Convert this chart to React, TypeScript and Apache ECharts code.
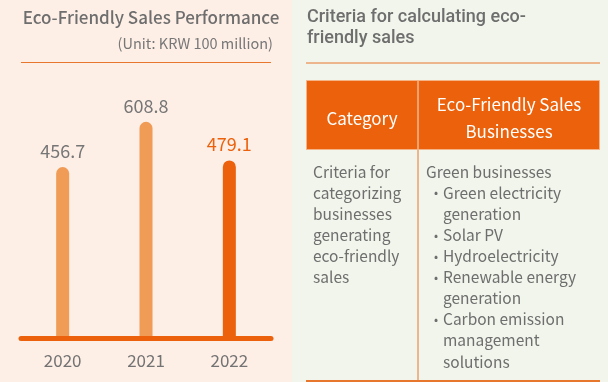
import { useEffect, useRef } from "react";
import * as echarts from "echarts";

// Eco-friendly sales by year (KRW 100 million)
const years = ["2020", "2021", "2022"];
const sales = [456.7, 608.8, 479.1];
const barColors = ["#f09c57", "#f09c57", "#ec620c"];
const labelColors = ["#767676", "#767676", "#ec620c"];
const AXIS_MIN = -110;
const AXIS_MAX = 700;

const leftTitle = "Eco-Friendly Sales Performance";
const unitText = "(Unit: KRW 100 million)";
const rightTitle = ["Criteria for calculating eco-", "friendly sales"];
const headerLeft = "Category";
const headerRight = ["Eco-Friendly Sales", "Businesses"];
const criteriaLines = ["Criteria for", "categorizing", "businesses", "generating", "eco-friendly", "sales"];
const businessHead = "Green businesses";
const businessItems = [
  ["Green electricity", "generation"],
  ["Solar PV"],
  ["Hydroelectricity"],
  ["Renewable energy", "generation"],
  ["Carbon emission", "management", "solutions"],
];

const FONT = "'Noto Sans CJK KR', 'Noto Sans', sans-serif";
const FONT_TITLE2 = "Roboto, 'Noto Sans', sans-serif";
const GRAY = "#6e6e6e";
const ORANGE = "#ec620c";

function buildGraphics() {
  const els: any[] = [
    { type: "rect", z: -10, shape: { x: 0, y: 0, width: 292, height: 382 }, style: { fill: "#fdeee6" } },
    { type: "rect", z: -10, shape: { x: 292, y: 0, width: 316, height: 382 }, style: { fill: "#f1f5eb" } },
    // left heading
    { type: "text", x: 151, y: 16, style: { text: leftTitle, font: `500 17px ${FONT}`, fill: GRAY, align: "center", verticalAlign: "middle" } },
    { type: "text", x: 273, y: 42, style: { text: unitText, font: `14.5px ${FONT}`, fill: "#777777", align: "right", verticalAlign: "middle" } },
    { type: "line", shape: { x1: 21, y1: 62.5, x2: 271, y2: 62.5 }, style: { stroke: "#e8772e", lineWidth: 1 } },
    // right heading
    {
      type: "text",
      x: 307,
      y: 4.5,
      style: { text: rightTitle.join("\n"), font: `500 18px ${FONT_TITLE2}`, lineHeight: 21.5, fill: GRAY, align: "left", verticalAlign: "top" },
    },
    { type: "line", shape: { x1: 306, y1: 63, x2: 600, y2: 63 }, style: { stroke: "#e8772e", lineWidth: 1 } },
    // table header
    { type: "rect", shape: { x: 306.5, y: 80.5, width: 293, height: 69 }, style: { fill: ORANGE, stroke: "#f4b488", lineWidth: 1 } },
    { type: "line", shape: { x1: 418, y1: 81, x2: 418, y2: 149 }, style: { stroke: "#fbe3d3", lineWidth: 1 } },
    { type: "text", x: 362, y: 117, style: { text: headerLeft, font: `17px ${FONT}`, fill: "#ffffff", align: "center", verticalAlign: "middle" } },
    {
      type: "text",
      x: 509,
      y: 116.5,
      style: { text: headerRight.join("\n"), font: `17px ${FONT}`, lineHeight: 27, fill: "#ffffff", align: "center", verticalAlign: "middle" },
    },
    // table body rules
    { type: "line", shape: { x1: 418, y1: 150, x2: 418, y2: 381 }, style: { stroke: "#e8772e", lineWidth: 1 } },
    { type: "line", shape: { x1: 306, y1: 381, x2: 600, y2: 381 }, style: { stroke: "#e8772e", lineWidth: 2 } },
  ];

  const step = 21.1;
  const top = 170.7;
  els.push({
    type: "text",
    x: 313,
    y: top - step / 2,
    style: { text: criteriaLines.join("\n"), font: `15.5px ${FONT}`, lineHeight: step, fill: GRAY, align: "left", verticalAlign: "top" },
  });
  els.push({ type: "text", x: 426, y: top, style: { text: businessHead, font: `15.5px ${FONT}`, fill: GRAY, align: "left", verticalAlign: "middle" } });
  let row = 1;
  businessItems.forEach((lines) => {
    const y0 = top + row * step;
    els.push({ type: "text", x: 436, y: y0, style: { text: "•", font: `12px ${FONT}`, fill: GRAY, align: "center", verticalAlign: "middle" } });
    els.push({
      type: "text",
      x: 443,
      y: y0 - step / 2,
      style: { text: lines.join("\n"), font: `15.5px ${FONT}`, lineHeight: step, fill: GRAY, align: "left", verticalAlign: "top" },
    });
    row += lines.length;
  });
  return els;
}

export default function App() {
  const ref = useRef<HTMLDivElement>(null);

  useEffect(() => {
    if (!ref.current) return;
    const chart = echarts.init(ref.current, null, { renderer: "svg" });
    chart.setOption({
      animation: false,
      textStyle: { fontFamily: FONT },
      grid: { left: 21, right: 608 - 271, top: 94.6, bottom: 382 - 336 },
      xAxis: {
        type: "category",
        data: years,
        offset: 2.5,
        axisLine: { onZero: false, lineStyle: { color: ORANGE, width: 5 } },
        axisTick: { show: false },
        axisLabel: { color: "#737373", fontSize: 17, margin: 12, fontFamily: FONT },
        z: 1,
      },
      yAxis: { type: "value", min: AXIS_MIN, max: AXIS_MAX, show: false, splitLine: { show: false } },
      series: [
        {
          type: "custom",
          z: 3,
          data: sales.map((v, i) => [i, v]),
          renderItem: (params: any, api: any) => {
            const i = api.value(0);
            const v = api.value(1);
            const topPt = api.coord([i, v]);
            const basePt = api.coord([i, AXIS_MIN]);
            const w = 13;
            return {
              type: "rect",
              shape: { x: topPt[0] - w / 2, y: topPt[1], width: w, height: basePt[1] - topPt[1], r: [w / 2, w / 2, 0, 0] },
              style: { fill: barColors[i] },
              textContent: {
                style: { text: String(v), fill: labelColors[i], font: `18px ${FONT}` },
              },
              textConfig: { position: "top", distance: 8 },
            };
          },
        },
      ],
      graphic: buildGraphics(),
    });
    return () => chart.dispose();
  }, []);

  return <div ref={ref} style={{ position: "fixed", left: 0, top: 0, width: 608, height: 382 }} />;
}
